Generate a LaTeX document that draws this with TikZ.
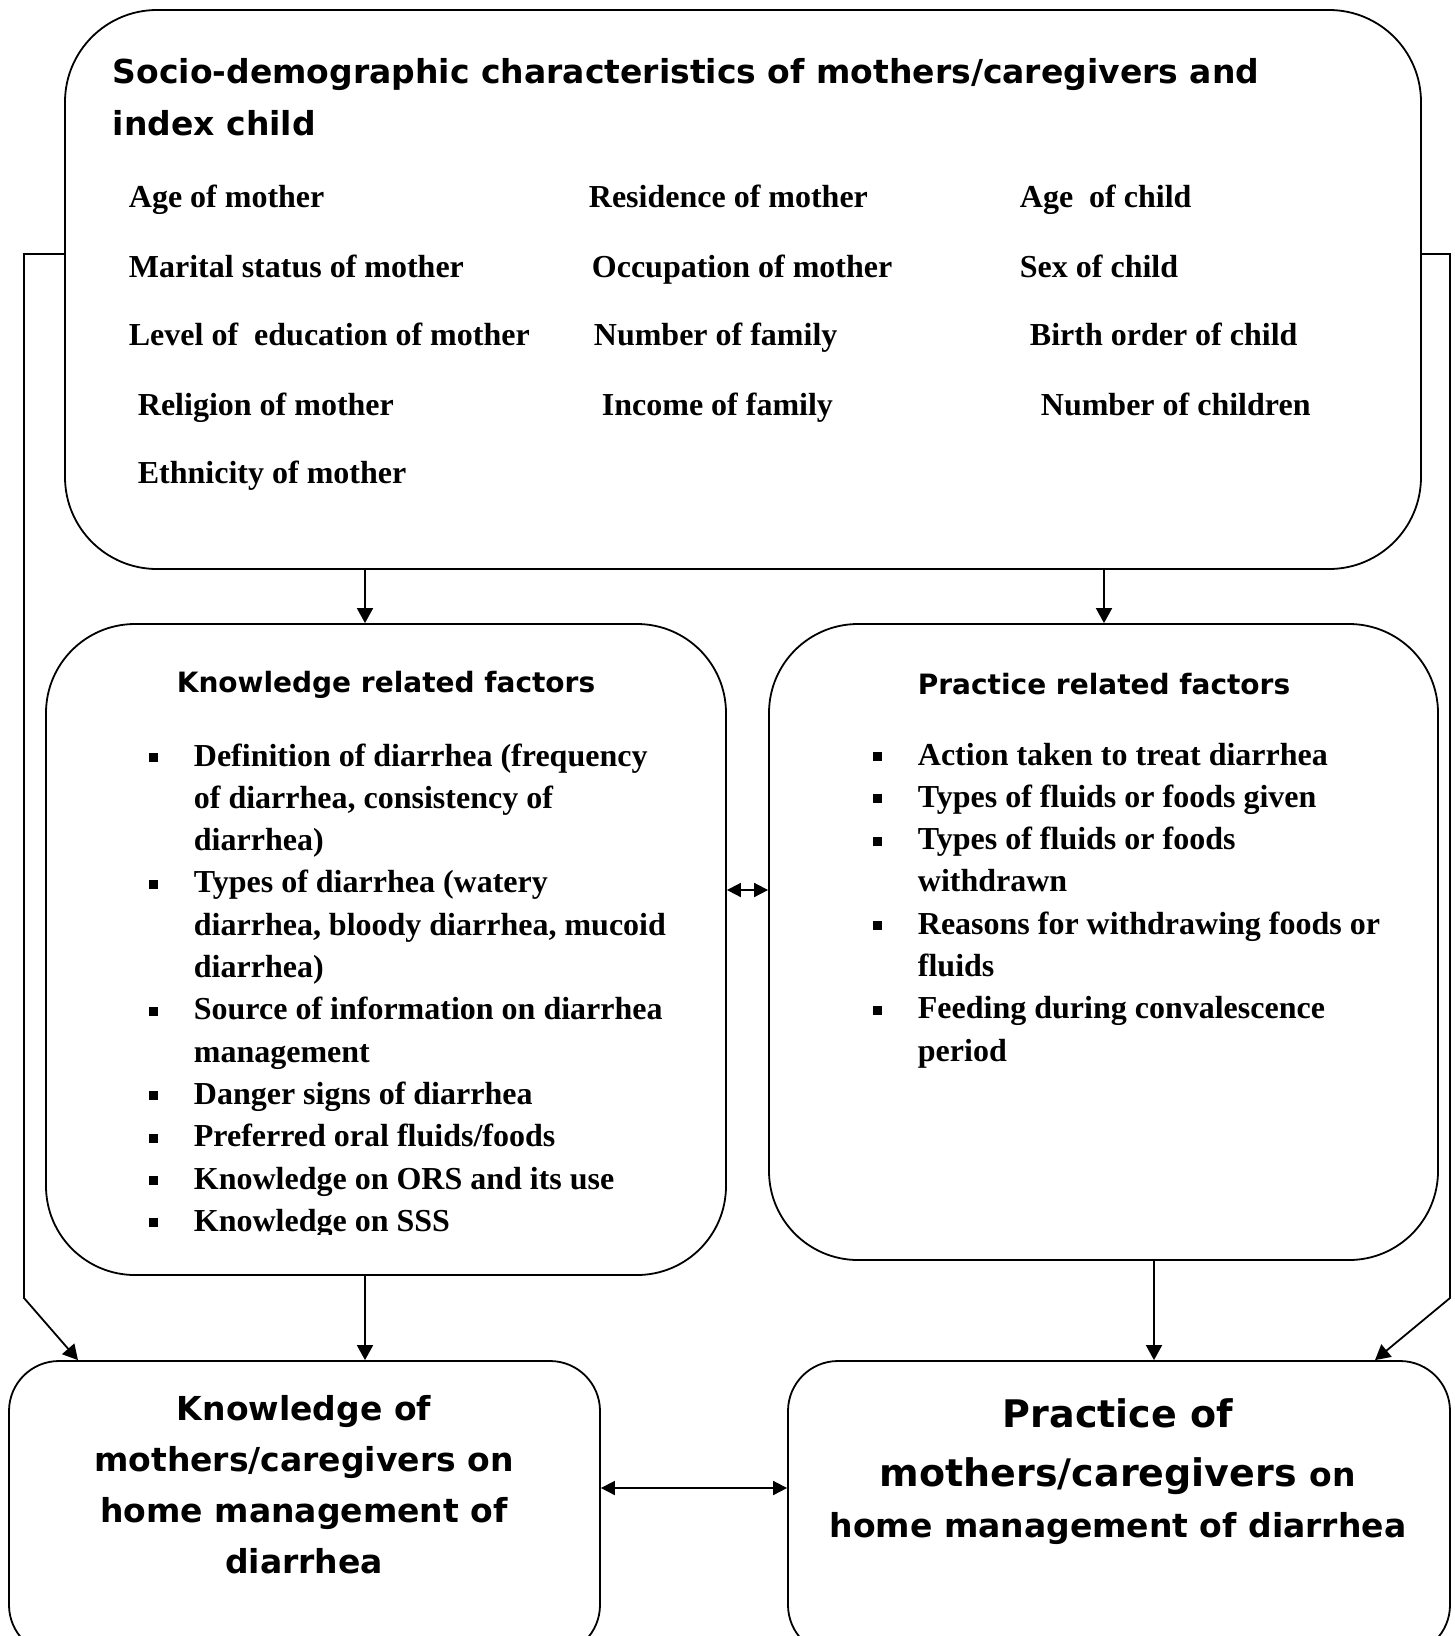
\documentclass[tikz,border=0pt]{standalone}
\usepackage{fontspec}
\setmainfont{Liberation Serif}
\newfontfamily\verdfont{DejaVu Sans}
\usetikzlibrary{arrows.meta}

% quadratino nero per gli elenchi
\newcommand{\sqbul}{\rule[4pt]{9pt}{9pt}}

\begin{document}
\begin{tikzpicture}[
    x=1pt, y=-1pt,
    line width=1.8pt,
    box/.style={draw, rounded corners=#1, inner sep=0pt},
    arr/.style={-{Triangle[length=15pt,width=16pt]}},
    darr/.style={{Triangle[length=14pt,width=14pt]}-{Triangle[length=14pt,width=14pt]}},
    item/.style={anchor=base west, inner sep=0pt, font=\fontsize{32}{42.3}\selectfont\bfseries},
    head/.style={inner sep=0pt, font=\verdfont\fontsize{28}{34}\selectfont\bfseries},
    outline/.style={anchor=base, inner sep=0pt, font=\verdfont\bfseries\fontsize{#1}{#1}\selectfont}
]
\useasboundingbox (0,0) rectangle (1455,1636);
\clip (0,0) rectangle (1455,1636);

% --- Riquadri ---
\node[box=92, minimum width=1356pt, minimum height=559pt] (socio) at (743,289.5) {};
\node[box=89, minimum width=680pt, minimum height=651pt] (kfac) at (386,949.5) {};
\node[box=89, minimum width=669pt, minimum height=636pt] (pfac) at (1103.5,942) {};
\node[box=50, minimum width=591pt, minimum height=294pt] (kout) at (304.5,1508) {};
\node[box=50, minimum width=662pt, minimum height=294pt] (pout) at (1119,1508) {};

% --- Caratteristiche socio-demografiche ---
\node[anchor=west, align=left, inner sep=0pt, font=\verdfont\fontsize{33}{52}\selectfont\bfseries] (sociotitle) at (112,97)
    {Socio-demographic characteristics of mothers/caregivers and\\index child};

\node[item] (agem)  at (128,207) {Age of mother};
\node[item] (mar)   at (128,277) {Marital status of mother};
\node[item] (edu)   at (128,345) {Level of\ \ education of mother};
\node[item] (rel)   at (137,415) {Religion of mother};
\node[item] (eth)   at (137,483) {Ethnicity of mother};

\node[item] (res)   at (588,207) {Residence of mother};
\node[item] (occ)   at (591,277) {Occupation of mother};
\node[item] (nfam)  at (593,345) {Number of family};
\node[item] (inc)   at (601,415) {Income of family};

\node[item] (agec)  at (1019,207) {Age\ \ of child};
\node[item] (sex)   at (1019,277) {Sex of child};
\node[item] (birth) at (1029,345) {Birth order of child};
\node[item] (nchi)  at (1040,415) {Number of children};

% --- Fattori legati alla conoscenza ---
\node[head] (khead) at (386,685) {Knowledge related factors};
\begin{scope}
\clip (0,600) rectangle (726,1234); % l'ultima riga e' tagliata
\node[item] (klist) at (148,766) {%
    \begin{tabular}[t]{@{}p{45pt}@{}l@{}}
    \sqbul & Definition of diarrhea (frequency\\
           & of diarrhea, consistency of\\
           & diarrhea)\\
    \sqbul & Types of diarrhea (watery\\
           & diarrhea, bloody diarrhea, mucoid\\
           & diarrhea)\\
    \sqbul & Source of information on diarrhea\\
           & management\\
    \sqbul & Danger signs of diarrhea\\
    \sqbul & Preferred oral fluids/foods\\
    \sqbul & Knowledge on ORS and its use\\
    \sqbul & Knowledge on SSS
    \end{tabular}};
\end{scope}

% --- Fattori legati alla pratica ---
\node[head] (phead) at (1104,684) {Practice related factors};
\node[item] (plist) at (872,765) {%
    \begin{tabular}[t]{@{}p{45pt}@{}l@{}}
    \sqbul & Action taken to treat diarrhea\\
    \sqbul & Types of fluids or foods given\\
    \sqbul & Types of fluids or foods\\
           & withdrawn\\
    \sqbul & Reasons for withdrawing foods or\\
           & fluids\\
    \sqbul & Feeding during convalescence\\
           & period
    \end{tabular}};

% --- Esiti ---
\node[align=center, inner sep=0pt, font=\verdfont\fontsize{33}{51}\selectfont\bfseries] (ktext) at (304,1484.5)
    {Knowledge of\\mothers/caregivers on\\home management of\\diarrhea};
\node[outline=38] (ptext1) at (1118,1427) {Practice of};
\node[outline=38] (ptext2) at (1118,1486)
    {mothers/caregivers {\fontsize{33}{33}\selectfont on}};
\node[outline=33] (ptext3) at (1118,1537) {home management of diarrhea};

% --- Frecce ---
\draw[arr] (socio.south -| 365,0) -- (kfac.north -| 365,0);
\draw[arr] (socio.south -| 1104,0) -- (pfac.north -| 1104,0);
\draw[arr] (kfac.south -| 365,0) -- (kout.north -| 365,0);
\draw[arr] (pfac.south -| 1154,0) -- (pout.north -| 1154,0);
\draw[arr] (socio.west |- 0,254) -- (24,254) -- (24,1298) -- (kout.north -| 78,0);
\draw[arr] (socio.east |- 0,254) -- (1450,254) -- (1450,1298) -- (pout.north -| 1375,0);
\draw[darr] (kfac.east |- 0,890) -- (pfac.west |- 0,890);
\draw[darr] (kout.east |- 0,1488) -- (pout.west |- 0,1488);

\end{tikzpicture}
\end{document}
